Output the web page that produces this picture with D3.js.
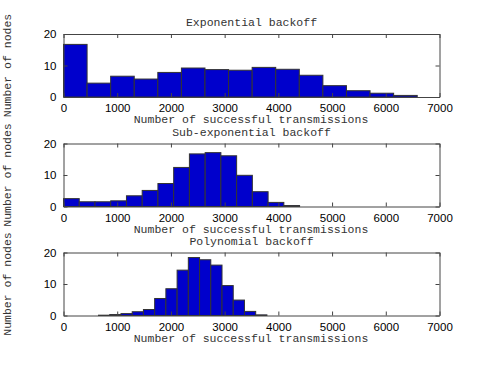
<!DOCTYPE html>
<html>
<head>
<meta charset="utf-8">
<script src="https://d3js.org/d3.v7.min.js"></script>
<style>
  body { margin: 0; background: #fff; }
</style>
</head>
<body>
<div id="vis"></div>
<script>
  // histogram bin edges (number of successful transmissions) and counts (number of nodes)
  var expEdges = [0, 439, 878, 1317, 1756, 2195, 2634, 3073, 3512, 3951, 4390, 4829, 5268, 5707, 6146, 6585]
  var expCounts = [16.7, 4.4, 6.6, 5.7, 7.8, 9.2, 8.7, 8.5, 9.4, 8.8, 6.9, 3.6, 2.0, 1.2, 0.5]

  var subEdges = [0, 293, 586, 879, 1172, 1465, 1758, 2051, 2344, 2637, 2930, 3223, 3516, 3809, 4102, 4395]
  var subCounts = [2.5, 1.5, 1.5, 1.8, 3.4, 5.1, 7.3, 12.4, 16.7, 17.1, 16.1, 9.9, 4.7, 1.3, 0.3]

  var polyEdges = [652, 861, 1070, 1279, 1488, 1697, 1906, 2115, 2324, 2533, 2742, 2951, 3160, 3369, 3578, 3787]
  var polyCounts = [0.1, 0.3, 0.6, 1.2, 1.9, 5.4, 8.5, 14.4, 18.4, 17.7, 16.0, 9.5, 4.9, 1.3, 0.2]

  var titles = ["Exponential backoff", "Sub-exponential backoff", "Polynomial backoff"]
  var xTicks = [0, 1000, 2000, 3000, 4000, 5000, 6000, 7000]
  var yTicks = [0, 10, 20]

  var W = 485, H = 365
  var svg = d3.select("#vis").append("svg")
    .attr("width", W).attr("height", H)

  var left = 63.5, right = 439.5, ph = 63
  var tops = [34, 143.5, 252.5]

  var x = d3.scaleLinear().domain([0, 7000]).range([left, right])

  var panels = [
    [expEdges, expCounts],
    [subEdges, subCounts],
    [polyEdges, polyCounts]
  ]

  var mono = "'Liberation Mono', 'DejaVu Sans Mono', monospace"
  var sans = "'Liberation Sans', Arial, sans-serif"

  panels.forEach(function(p, k) {
    var top = tops[k]
    var y = d3.scaleLinear().domain([0, 20]).range([top + ph, top])
    var g = svg.append("g")

    var bins = p[1].map(function(c, i) { return {x0: p[0][i], x1: p[0][i + 1], c: c} })

    // bars
    g.selectAll("rect.bar")
      .data(bins)
      .enter()
      .append("rect")
        .attr("class", "bar")
        .attr("x", function(d) { return x(d.x0) })
        .attr("y", function(d) { return y(d.c) })
        .attr("width", function(d) { return x(d.x1) - x(d.x0) })
        .attr("height", function(d) { return y(0) - y(d.c) })
        .attr("fill", "#0000cc")
        .attr("stroke", "#333")
        .attr("stroke-width", 1)

    // box axes with inward ticks (bottom/left labelled, top/right mirrored)
    g.append("g")
      .attr("transform", "translate(0," + (top + ph) + ")")
      .call(d3.axisBottom(x).tickValues(xTicks).tickSizeInner(-4).tickSizeOuter(0).tickPadding(7).tickFormat(d3.format("d")))
    g.append("g")
      .attr("transform", "translate(0," + top + ")")
      .call(d3.axisTop(x).tickValues(xTicks).tickSizeInner(-4).tickSizeOuter(0).tickFormat(""))
    g.append("g")
      .attr("transform", "translate(" + left + ",0)")
      .call(d3.axisLeft(y).tickValues(yTicks).tickSizeInner(-4).tickSizeOuter(0).tickPadding(7))
    g.append("g")
      .attr("transform", "translate(" + right + ",0)")
      .call(d3.axisRight(y).tickValues(yTicks).tickSizeInner(-4).tickSizeOuter(0).tickFormat(""))

    g.selectAll(".domain").attr("stroke", "#444")
    g.selectAll(".tick line").attr("stroke", "#444")
    g.selectAll(".tick text")
      .attr("fill", "#000")
      .style("font-family", sans)
      .style("font-size", "11.5px")

    // title
    g.append("text")
      .attr("x", (left + right) / 2)
      .attr("y", top - 8)
      .attr("text-anchor", "middle")
      .style("font-family", mono)
      .style("font-size", "11.5px")
      .attr("fill", "#333")
      .text(titles[k])

    // x label
    g.append("text")
      .attr("x", (left + right) / 2 - 0.5)
      .attr("y", top + ph + 26)
      .attr("text-anchor", "middle")
      .style("font-family", mono)
      .style("font-size", "11.5px")
      .attr("fill", "#333")
      .text("Number of successful transmissions")

    // y label
    g.append("text")
      .attr("transform", "translate(11," + (top + ph / 2) + ") rotate(-90)")
      .attr("text-anchor", "middle")
      .style("font-family", mono)
      .style("font-size", "11.5px")
      .attr("fill", "#333")
      .text("Number of nodes")
  })
</script>
</body>
</html>
